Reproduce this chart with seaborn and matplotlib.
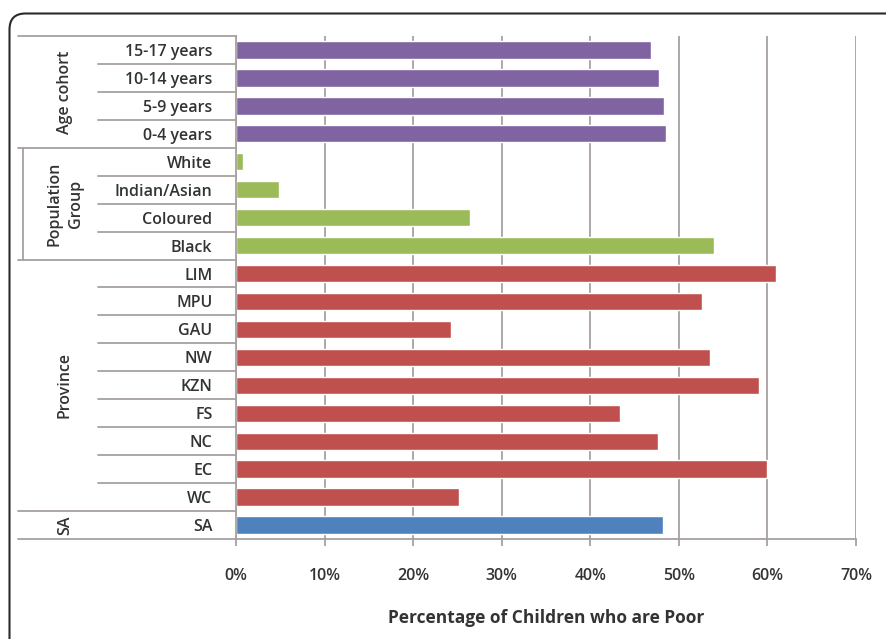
import matplotlib
matplotlib.use("Agg")
import matplotlib.pyplot as plt
import matplotlib.transforms as mtransforms
from matplotlib.patches import FancyBboxPatch
import seaborn as sns
import pandas as pd

# ---- data (top to bottom) ----
categories = ["15-17 years", "10-14 years", "5-9 years", "0-4 years",
              "White", "Indian/Asian", "Coloured", "Black",
              "LIM", "MPU", "GAU", "NW", "KZN", "FS", "NC", "EC", "WC",
              "SA"]
groups = ["Age cohort"] * 4 + ["Population Group"] * 4 + ["Province"] * 9 + ["SA"]
values = [46.8, 47.8, 48.3, 48.6,
          0.8, 4.8, 26.4, 54.0,
          61.0, 52.6, 24.3, 53.5, 59.0, 43.4, 47.6, 59.9, 25.2,
          48.2]
group_names = ["Age cohort", "Population Group", "Province", "SA"]
group_labels = ["Age cohort", "Population\nGroup", "Province", "SA"]
group_colors = ["#8064A2", "#9BBB59", "#C0504D", "#4F81BD"]
x_ticks = [0, 10, 20, 30, 40, 50, 60, 70]
x_label = "Percentage of Children who are Poor"

df = pd.DataFrame({"category": categories, "group": groups, "value": values})

sns.set_theme(style="white")
plt.rcParams["font.family"] = ["Open Sans", "DejaVu Sans"]

W, H = 887, 639
fig = plt.figure(figsize=(W / 100, H / 100), dpi=100)
ax = fig.add_axes([236 / W, 1 - 539 / H, (856 - 236) / W, (539 - 36) / H])

palette = dict(zip(group_names, group_colors))
sns.barplot(data=df, x="value", y="category", hue="group", palette=palette,
            dodge=False, order=categories, hue_order=group_names,
            width=0.62, legend=False, ax=ax, saturation=1)

ax.set_xlim(0, 70)
ax.set_ylim(len(categories) - 0.5, -0.5)
ax.set_xticks(x_ticks)
ax.set_xticklabels([f"{t}%" for t in x_ticks])
ax.grid(axis="x", color="#A8A0A0", linewidth=1.3)
ax.set_axisbelow(True)
for s in ["top", "right"]:
    ax.spines[s].set_visible(False)
for s in ["left", "bottom"]:
    ax.spines[s].set_color("#A8A0A0")
    ax.spines[s].set_linewidth(1.3)

txt_col = "#333333"
ax.tick_params(axis="y", length=0, pad=17, labelsize=11.5, labelcolor=txt_col)
ax.tick_params(axis="x", length=5, width=1.3, color="#A8A0A0", direction="out",
               pad=16, labelsize=11.5, labelcolor=txt_col, bottom=True)
for lab in ax.get_yticklabels() + ax.get_xticklabels():
    lab.set_fontweight("semibold")
ax.set_ylabel("")
ax.set_xlabel(x_label, fontsize=12.5, fontweight="bold", color=txt_col, labelpad=18)

# multi-level category axis lines
trans = mtransforms.blended_transform_factory(fig.transFigure, ax.transData)
x_axis = 236 / W
x_long = 18 / W
x_short = 98 / W
line_kw = dict(color="#A8A0A0", linewidth=1.3, transform=trans, clip_on=False)
bounds = [0]
for i in range(1, len(groups)):
    if groups[i] != groups[i - 1]:
        bounds.append(i)
bounds.append(len(groups))
for i in range(len(groups) + 1):
    y = i - 0.5
    x0 = x_long if i in bounds else x_short
    ax.add_line(plt.Line2D([x0, x_axis], [y, y], **line_kw))

# group labels
for gi in range(len(bounds) - 1):
    a, b = bounds[gi], bounds[gi + 1]
    yc = (a + b - 1) / 2
    ax.text(65 / W, yc, group_labels[gi], transform=trans, rotation=90,
            ha="center", va="center", fontsize=11.5, fontweight="semibold",
            color=txt_col, linespacing=1.45, multialignment="center")
    if "\n" in group_labels[gi]:
        ax.add_line(plt.Line2D([23 / W, 23 / W], [a - 0.5, b - 0.5], **line_kw))

# chart border
border = FancyBboxPatch((9.5, -30), 900, H - 13.5 + 30, transform=None,
                        boxstyle="round,pad=0,rounding_size=16",
                        facecolor="none", edgecolor="#2A2A2A", linewidth=1.5)
fig.add_artist(border)

fig.savefig("out.png", dpi=100)
